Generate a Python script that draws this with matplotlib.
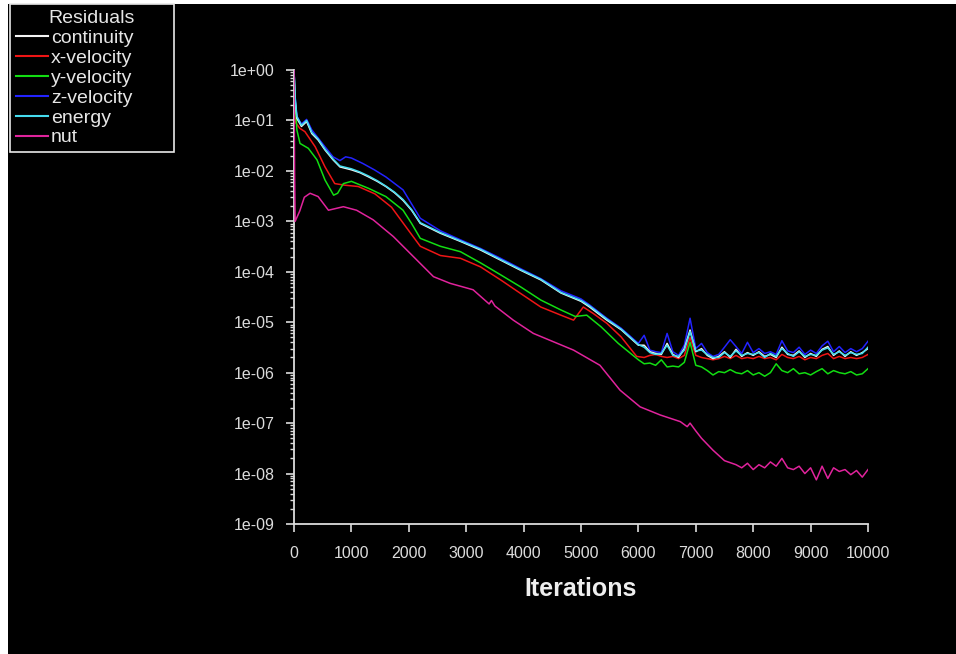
#%%============================================================================
# Residuals plot (recreated from solver monitor screenshot)
#==============================================================================
import numpy as np
import matplotlib
matplotlib.use('Agg')
from matplotlib import pyplot as plt
from matplotlib.patches import Rectangle
from matplotlib.ticker import LogLocator, NullFormatter, FixedLocator

#%% Data
tail_iters = list(range(6100, 10001, 100))

cont_it = [0, 20, 50, 130, 220, 310, 420, 540, 680, 800,
           1000, 1150, 1300, 1450, 1600, 1750, 1900, 2050, 2200, 2550,
           2900, 3250, 3600, 3950, 4300, 4650, 5000, 5150, 5450, 5700, 6000]
cont_res = [1.0, 0.25, 0.11, 0.076, 0.095, 0.055, 0.041, 0.026, 0.0166, 0.012,
            0.0105, 0.0092, 0.0076, 0.0062, 0.0049, 0.0037, 0.0026, 0.00165, 9.1e-4, 5.8e-4,
            4.0e-4, 2.7e-4, 1.7e-4, 1.07e-4, 6.9e-5, 3.8e-5, 2.6e-5, 2.0e-5, 1.1e-5, 7.1e-6, 3.5e-6]
cont_tail = [3.5e-6, 2.6e-6, 2.4e-6, 2.3e-6, 3.8e-6, 2.3e-6, 2.0e-6, 3.0e-6, 7.0e-6, 2.6e-6,
             3.0e-6, 2.2e-6, 1.9e-6, 2.1e-6, 2.6e-6, 2.0e-6, 2.9e-6, 2.1e-6, 2.5e-6, 2.2e-6,
             2.6e-6, 2.1e-6, 2.3e-6, 2.0e-6, 3.2e-6, 2.3e-6, 2.2e-6, 2.7e-6, 2.0e-6, 2.4e-6,
             2.1e-6, 2.9e-6, 3.3e-6, 2.2e-6, 2.7e-6, 2.1e-6, 2.6e-6, 2.2e-6, 2.5e-6, 3.0e-6]

energy_res = [1.0, 0.28, 0.12, 0.08, 0.1, 0.058, 0.043, 0.027, 0.0172, 0.0125,
              0.011, 0.0095, 0.0079, 0.0064, 0.005, 0.0038, 0.0027, 0.0017, 9.4e-4, 6.0e-4,
              4.1e-4, 2.8e-4, 1.75e-4, 1.1e-4, 7.1e-5, 3.9e-5, 2.7e-5, 2.1e-5, 1.15e-5, 7.3e-6, 3.6e-6]
energy_tail = [3.2e-6, 2.5e-6, 2.3e-6, 2.4e-6, 3.5e-6, 2.2e-6, 2.1e-6, 2.8e-6, 6.5e-6, 2.7e-6,
               2.8e-6, 2.3e-6, 2.0e-6, 2.0e-6, 2.5e-6, 2.1e-6, 2.7e-6, 2.2e-6, 2.4e-6, 2.3e-6,
               2.5e-6, 2.0e-6, 2.4e-6, 2.1e-6, 3.0e-6, 2.4e-6, 2.1e-6, 2.6e-6, 2.1e-6, 2.3e-6,
               2.2e-6, 2.8e-6, 3.1e-6, 2.3e-6, 2.6e-6, 2.2e-6, 2.5e-6, 2.3e-6, 2.4e-6, 3.2e-6]

z_it = [0, 20, 50, 130, 220, 310, 420, 540, 680, 800,
        900, 1000, 1200, 1400, 1600, 1900, 2050, 2200, 2550, 2900,
        3250, 3600, 3950, 4300, 4650, 5000, 5150, 5450, 5700, 6000]
z_res = [1.0, 0.3, 0.12, 0.085, 0.105, 0.065, 0.045, 0.03, 0.019, 0.016,
         0.019, 0.018, 0.014, 0.0105, 0.0076, 0.0042, 0.0022, 0.00115, 6.5e-4, 4.3e-4,
         2.9e-4, 1.85e-4, 1.15e-4, 7.3e-5, 4.2e-5, 2.9e-5, 2.2e-5, 1.2e-5, 7.6e-6, 3.8e-6]
z_tail = [5.5e-6, 2.8e-6, 2.6e-6, 2.5e-6, 6.0e-6, 2.6e-6, 2.2e-6, 3.5e-6, 1.2e-5, 3.0e-6,
          3.8e-6, 2.5e-6, 2.1e-6, 2.3e-6, 3.2e-6, 4.5e-6, 3.3e-6, 2.4e-6, 4.0e-6, 2.5e-6,
          3.0e-6, 2.4e-6, 2.6e-6, 2.3e-6, 4.3e-6, 2.7e-6, 2.5e-6, 3.2e-6, 2.3e-6, 2.8e-6,
          2.4e-6, 3.4e-6, 4.2e-6, 2.6e-6, 3.3e-6, 2.5e-6, 3.0e-6, 2.6e-6, 3.0e-6, 4.2e-6]

y_it = [0, 15, 50, 105, 250, 400, 540, 690, 760, 860,
        1000, 1300, 1600, 1900, 2050, 2200, 2550, 2900, 3250, 3600,
        3950, 4300, 4650, 4900, 5100, 5350, 5650, 6000]
y_res = [1.0, 0.3, 0.065, 0.035, 0.028, 0.0166, 0.0066, 0.0033, 0.0036, 0.0056,
         0.0062, 0.0045, 0.0031, 0.00166, 9.0e-4, 4.6e-4, 3.2e-4, 2.5e-4, 1.5e-4, 8.7e-5,
         5.0e-5, 2.75e-5, 1.75e-5, 1.3e-5, 1.38e-5, 8.1e-6, 3.8e-6, 1.8e-6]
y_tail = [1.5e-6, 1.55e-6, 1.4e-6, 1.8e-6, 1.3e-6, 1.35e-6, 1.3e-6, 1.6e-6, 4.0e-6, 1.4e-6,
          1.3e-6, 1.1e-6, 0.9e-6, 1.05e-6, 1.0e-6, 1.15e-6, 1.0e-6, 0.95e-6, 1.1e-6, 0.9e-6,
          1.0e-6, 0.85e-6, 1.0e-6, 1.5e-6, 1.1e-6, 1.0e-6, 1.2e-6, 0.95e-6, 1.0e-6, 0.9e-6,
          1.05e-6, 1.2e-6, 0.95e-6, 1.1e-6, 1.0e-6, 0.95e-6, 1.05e-6, 0.9e-6, 0.95e-6, 1.2e-6]

x_it = [0, 30, 100, 190, 370, 540, 710, 890, 1120, 1410,
        1700, 2000, 2200, 2550, 2900, 3250, 3600, 3950, 4300, 4650,
        4870, 5040, 5210, 5450, 5700, 5970]
x_res = [0.2, 0.09, 0.07, 0.06, 0.03, 0.012, 0.0056, 0.0052, 0.0049, 0.0035,
         0.0019, 6.5e-4, 3.2e-4, 2.1e-4, 1.85e-4, 1.25e-4, 6.9e-5, 3.7e-5, 2.0e-5, 1.38e-5,
         1.1e-5, 2.0e-5, 1.5e-5, 9.5e-6, 5.1e-6, 2.1e-6]
x_tail = [2.0e-6, 2.2e-6, 2.3e-6, 2.1e-6, 2.0e-6, 2.1e-6, 1.9e-6, 2.2e-6, 5.0e-6, 2.2e-6,
          2.0e-6, 1.9e-6, 1.8e-6, 1.9e-6, 2.1e-6, 1.9e-6, 2.2e-6, 1.9e-6, 2.0e-6, 1.9e-6,
          2.1e-6, 1.9e-6, 2.0e-6, 1.8e-6, 2.3e-6, 2.0e-6, 1.9e-6, 2.1e-6, 1.8e-6, 2.0e-6,
          1.9e-6, 2.2e-6, 2.4e-6, 1.9e-6, 2.1e-6, 1.9e-6, 2.0e-6, 1.9e-6, 2.0e-6, 2.3e-6]

nut_it = [0, 10, 20, 100, 180, 280, 420, 600, 860, 1090,
          1380, 1730, 2080, 2430, 2720, 3120, 3300, 3400, 3440, 3500,
          3820, 4170, 4520, 4870, 5330, 5680, 6030, 6380, 6730, 6850,
          6900, 7000, 7100, 7300, 7500, 7700]
nut_res = [1.0, 0.01, 1.0e-3, 1.6e-3, 3.0e-3, 3.6e-3, 3.1e-3, 1.66e-3, 1.95e-3, 1.66e-3,
           1.07e-3, 5.0e-4, 2.0e-4, 8.0e-5, 5.9e-5, 4.4e-5, 2.9e-5, 2.3e-5, 2.7e-5, 2.1e-5,
           1.1e-5, 6.0e-6, 4.1e-6, 2.8e-6, 1.4e-6, 4.5e-7, 2.1e-7, 1.45e-7, 1.07e-7, 8.5e-8,
           1.0e-7, 7.0e-8, 5.0e-8, 2.9e-8, 1.8e-8, 1.5e-8]
nut_tail_it = list(range(7800, 10001, 100))
nut_tail = [1.3e-8, 1.6e-8, 1.2e-8, 1.5e-8, 1.3e-8, 1.7e-8, 1.4e-8, 2.0e-8, 1.3e-8, 1.2e-8,
            1.4e-8, 1.0e-8, 1.3e-8, 0.75e-8, 1.4e-8, 0.8e-8, 1.3e-8, 1.1e-8, 1.2e-8, 0.95e-8,
            1.15e-8, 0.85e-8, 1.2e-8]

labels = ['continuity', 'x-velocity', 'y-velocity', 'z-velocity', 'energy', 'nut']
xticks = [0, 1000, 2000, 3000, 4000, 5000, 6000, 7000, 8000, 9000, 10000]
yticks = [1e-9, 1e-8, 1e-7, 1e-6, 1e-5, 1e-4, 1e-3, 1e-2, 1e-1, 1e0]
ytick_labels = ['1e-09', '1e-08', '1e-07', '1e-06', '1e-05', '1e-04', '1e-03', '1e-02', '1e-01', '1e+00']

#%% Plot
plt.rcParams['font.family'] = ['Liberation Sans', 'DejaVu Sans']
W, H = 956, 654
fig = plt.figure(figsize=[W/100, H/100], dpi=100, facecolor='white')
# black panel, leaving the thin white strip on the left and top
fig.patches.append(Rectangle((8/W, 0), 1, 1 - 4/H, transform=fig.transFigure,
                             facecolor='black', edgecolor='none', zorder=-10))

ax = fig.add_axes([294/W, 1 - 524/H, (868-294)/W, (524-70)/H])
ax.set_facecolor('none')

series = [
    (cont_it + tail_iters, cont_res + cont_tail, '#f4f4f4', 4),
    (x_it + tail_iters, x_res + x_tail, '#ee1515', 3),
    (y_it + tail_iters, y_res + y_tail, '#12dd12', 3.5),
    (z_it + tail_iters, z_res + z_tail, '#2323ff', 2),
    (cont_it + tail_iters, energy_res + energy_tail, '#45dcee', 5),
    (nut_it + nut_tail_it, nut_res + nut_tail, '#e0239c', 6),
]
for (it, res, col, z), name in zip(series, labels):
    ax.plot(it, res, color=col, lw=1.1, zorder=z, label=name)

ax.set_yscale('log')
ax.set_xlim(0, 10000)
ax.set_ylim(1e-9, 1)
ax.xaxis.set_major_locator(FixedLocator(xticks))
ax.set_yticks(yticks)
ax.set_yticklabels(ytick_labels)
ax.yaxis.set_minor_locator(LogLocator(base=10, subs=(2, 3, 4, 5, 6, 7, 8, 9)))
ax.yaxis.set_minor_formatter(NullFormatter())

tc = '#dcdcdc'
for s in ['top', 'right']:
    ax.spines[s].set_visible(False)
for s in ['left', 'bottom']:
    ax.spines[s].set_color(tc)
    ax.spines[s].set_linewidth(1.3)
ax.tick_params(axis='both', which='major', colors=tc, length=6, width=1.2, labelsize=11.5)
ax.tick_params(axis='y', which='major', pad=8)
ax.tick_params(axis='x', which='major', pad=10)
ax.tick_params(axis='y', which='minor', colors=tc, length=3, width=1)
ax.set_xlabel('Iterations', color='#eeeeee', fontsize=18, fontweight='bold', labelpad=11)

# legend box sits in the top-left corner of the window
leg = ax.legend(loc='upper left', bbox_to_anchor=(10/W, 1 - 155/H, 164/W, 151/H),
                bbox_transform=fig.transFigure, mode='expand',
                borderaxespad=0, title='Residuals', fontsize=14, title_fontsize=14,
                frameon=True, fancybox=False, facecolor='black', edgecolor='#e8e8e8',
                framealpha=1, labelspacing=0.12, handlelength=1.65, handletextpad=0.15,
                borderpad=0.3)
leg.get_frame().set_linewidth(1.2)
leg.get_title().set_color('#e6e6e6')
for t in leg.get_texts():
    t.set_color('#e6e6e6')
for l in leg.get_lines():
    l.set_linewidth(1.5)

plt.savefig('out.png', dpi=100, facecolor=fig.get_facecolor())
